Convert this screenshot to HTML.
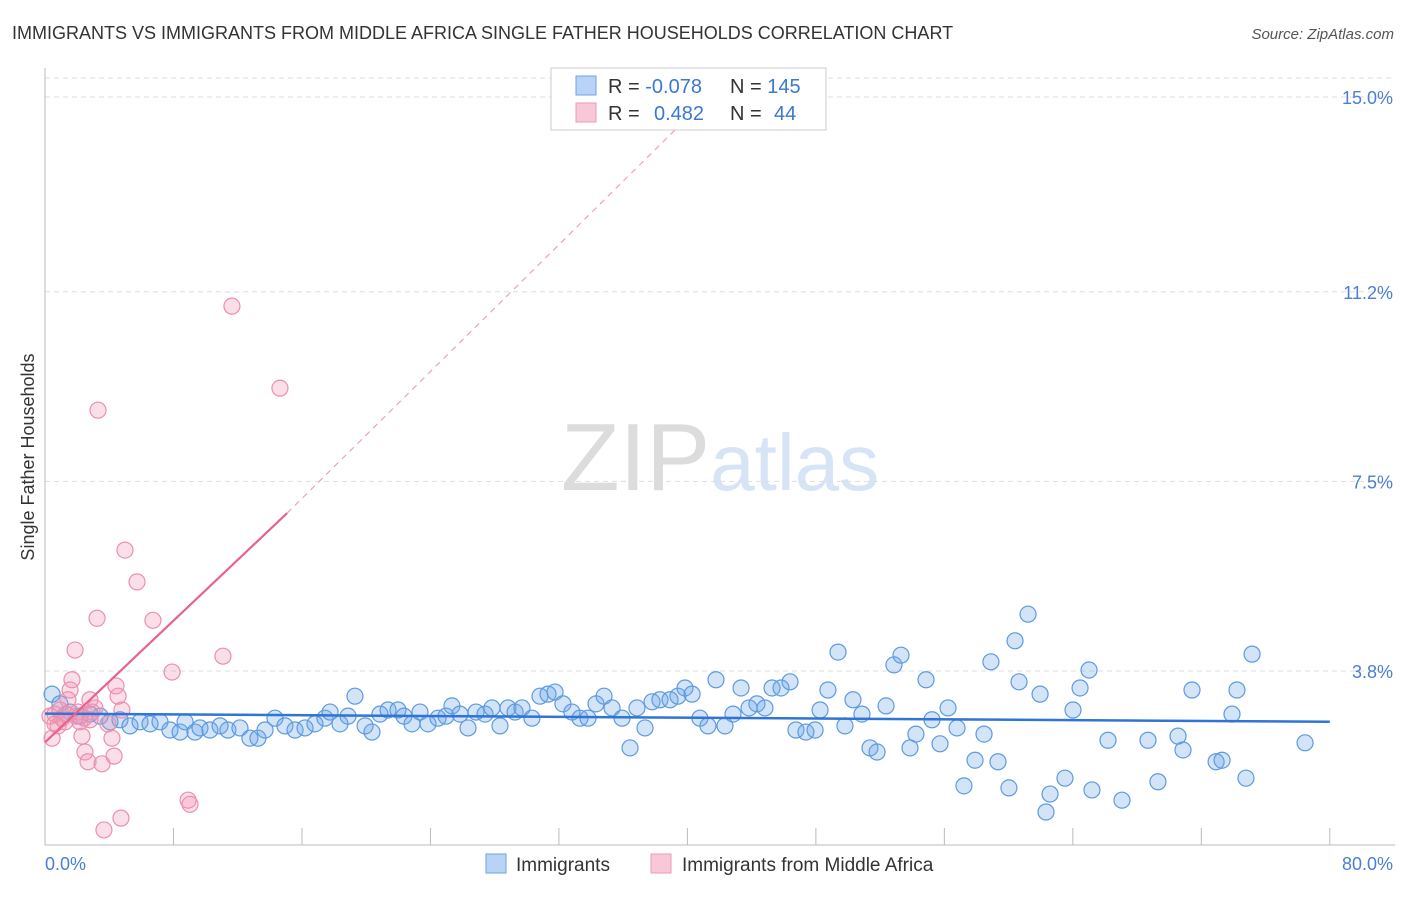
<!DOCTYPE html>
<html><head><meta charset="utf-8"><style>
body{margin:0;background:#fff;font-family:"Liberation Sans",sans-serif}
svg text{font-family:"Liberation Sans",sans-serif}
</style></head><body>
<svg id="chart" width="1406" height="892" xmlns="http://www.w3.org/2000/svg">
<text x="12" y="39" font-size="18" fill="#333">IMMIGRANTS VS IMMIGRANTS FROM MIDDLE AFRICA SINGLE FATHER HOUSEHOLDS CORRELATION CHART</text>
<text x="1394" y="39" font-size="15" fill="#555" text-anchor="end" font-style="italic">Source: ZipAtlas.com</text>
<text x="720" y="490" font-size="96" text-anchor="middle" fill="#e4e4e4" font-family="Liberation Serif"><tspan fill="#dcdcdc">ZIP</tspan><tspan fill="#d6e4f5" font-family="Liberation Sans" font-size="80">atlas</tspan></text>
<g id="grid"></g>
<g id="axes"></g>
<g id="pts"></g>
<g id="trends"></g>
<text transform="translate(34,457) rotate(-90)" font-size="18" fill="#333" text-anchor="middle">Single Father Households</text>
<text x="45" y="870" font-size="18" fill="#4a7fd4">0.0%</text>
<text x="1393" y="870" font-size="18" fill="#4a7fd4" text-anchor="end">80.0%</text>
<g>
<rect x="551" y="68" width="275" height="62" fill="#fff" stroke="#ccc"/>
<rect x="576" y="76" width="20" height="19" fill="#b8d3f5" stroke="#6fa3e3"/>
<rect x="576" y="103" width="20" height="19" fill="#f9c8d8" stroke="#ee9ab5"/>
<text x="608" y="93" font-size="20" fill="#333">R = <tspan fill="#3a78d4">-0.078</tspan></text>
<text x="730" y="93" font-size="20" fill="#333">N = <tspan fill="#3a78d4">145</tspan></text>
<text x="608" y="120" font-size="20" fill="#333">R = <tspan fill="#3a78d4" x="654">0.482</tspan></text>
<text x="730" y="120" font-size="20" fill="#333">N = <tspan fill="#3a78d4" x="774">44</tspan></text>
</g>
<g>
<rect x="486" y="854" width="20" height="19" fill="#b8d3f5" stroke="#6fa3e3"/>
<text x="516" y="871" font-size="19" fill="#333">Immigrants</text></g>
<g>
<rect x="651" y="854" width="20" height="19" fill="#f9c8d8" stroke="#ee9ab5"/>
<text x="682" y="871" font-size="19" fill="#333">Immigrants from Middle Africa</text></g>
</svg>
<script>
const yTicks=[15.0,11.2,7.5,3.8];
const yTickLabels=["15.0%","11.2%","7.5%","3.8%"];
const xTicks=[0,8,16,24,32,40,48,56,64,72,80];
const blueX=[0.44,0.93,1.56,2.18,2.80,3.43,4.05,4.67,5.29,5.92,6.54,7.16,7.78,8.41,8.72,9.34,9.65,10.27,10.90,11.39,12.14,12.76,13.26,13.70,14.32,14.94,15.57,16.19,16.81,17.43,17.75,18.37,18.87,19.30,19.93,20.36,20.86,21.36,21.98,22.35,22.85,23.35,23.85,24.47,24.97,25.34,25.84,26.34,26.84,27.40,27.83,28.33,28.83,29.27,29.70,30.32,30.82,31.32,31.76,32.25,32.81,33.31,33.81,34.31,34.81,35.31,35.93,36.43,36.86,37.36,37.80,38.29,38.92,39.41,39.85,40.29,40.78,41.28,41.78,42.34,42.84,43.34,43.84,44.33,44.83,45.27,45.83,46.39,46.76,47.38,47.95,48.26,48.75,49.38,49.81,50.31,50.87,51.37,51.81,52.37,52.86,53.30,53.86,54.23,54.86,55.23,55.73,56.23,56.79,57.22,57.91,58.47,58.90,59.34,60.02,60.40,60.65,61.21,61.96,62.33,62.58,63.51,64.01,64.45,65.01,65.19,66.19,67.06,68.68,69.30,70.55,70.86,71.42,72.92,73.29,73.91,74.22,74.78,75.16,78.46];
const blueY=[3.35,3.16,3.00,2.92,2.96,2.92,2.81,2.85,2.73,2.81,2.77,2.81,2.65,2.61,2.81,2.61,2.69,2.65,2.73,2.65,2.69,2.49,2.49,2.65,2.88,2.73,2.65,2.69,2.77,2.88,3.00,2.77,2.92,3.31,2.73,2.61,2.96,3.04,3.04,2.92,2.77,3.00,2.77,2.88,2.92,3.12,2.96,2.69,3.00,2.96,3.08,2.73,3.08,3.00,3.08,2.88,3.31,3.35,3.39,3.16,3.00,2.88,2.88,3.16,3.31,3.08,2.88,2.30,3.08,2.69,3.20,3.24,3.24,3.31,3.47,3.35,2.88,2.73,3.63,2.73,2.96,3.47,3.08,3.16,3.08,3.47,3.47,3.59,2.65,2.61,2.65,3.04,3.43,4.17,2.73,3.24,2.96,2.30,2.22,3.12,3.92,4.11,2.30,2.57,3.63,2.85,2.38,3.08,2.69,1.56,2.06,2.57,3.98,2.03,1.52,4.39,3.59,4.91,3.35,1.05,1.40,1.71,3.04,3.47,3.82,1.48,2.45,1.28,2.45,1.64,2.53,2.26,3.43,2.03,2.06,2.96,3.43,1.71,4.13,2.40];
const pinkX=[0.31,0.44,0.62,0.81,1.06,1.25,1.43,1.56,1.68,1.87,2.05,2.18,2.30,2.49,2.68,2.80,2.93,3.11,3.24,3.30,3.55,3.67,3.92,4.17,4.30,4.42,4.55,4.73,4.79,4.98,5.73,6.72,7.91,8.91,9.03,11.08,11.64,14.63,0.93,2.43,0.62,1.31,1.93,2.80];
const pinkY=[2.92,2.49,2.96,2.73,2.88,2.81,3.24,3.43,3.63,4.21,3.00,2.81,2.53,2.22,2.03,3.24,3.00,3.08,4.83,8.89,1.99,0.70,2.77,2.49,2.14,3.51,3.31,0.93,3.04,6.16,5.54,4.79,3.78,1.28,1.20,4.09,10.92,9.32,3.04,2.88,2.77,2.96,2.92,2.85];
const blueTrend=[[0,2.97],[80,2.81]];
const pinkTrend=[[0,2.41],[15.07,6.88]];
const pinkTrendDashEnd=[42.6,15.4];
const NS="http://www.w3.org/2000/svg";
const xs=v=>45+v*16.06;
const ys=v=>865.8-v*51.25;
function mk(parent,tag,attrs){const e=document.createElementNS(NS,tag);for(const k in attrs)e.setAttribute(k,attrs[k]);document.getElementById(parent).appendChild(e);return e;}
let e=mk('grid','line',{x1:45,x2:1395,y1:78,y2:78,stroke:'#ddd','stroke-dasharray':'5,4'});


yTicks.forEach((t,i)=>{
 const g=mk('grid','line',{x1:45,x2:1395,y1:ys(t),y2:ys(t),stroke:'#ddd','stroke-dasharray':'5,4'});
 
 
 const l=mk('grid','text',{x:1393,y:ys(t)+7,'font-size':18,fill:'#4a7fd4','text-anchor':'end'});
 l.textContent=yTickLabels[i];
 
 
});
e=mk('axes','line',{x1:45,x2:45,y1:68,y2:845,stroke:'#bbb'});


e=mk('axes','line',{x1:45,x2:1395,y1:845,y2:845,stroke:'#bbb'});


xTicks.forEach(t=>{
 const k=mk('axes','line',{x1:xs(t),x2:xs(t),y1:828,y2:845,stroke:'#bbb'});
 
 
});
blueX.forEach((x,i)=>{
 const c=mk('pts','circle',{cx:xs(x),cy:ys(blueY[i]),r:8,fill:'rgba(110,165,230,0.3)',stroke:'#5c9ae2','stroke-width':1.2});
 
 
});
pinkX.forEach((x,i)=>{
 const c=mk('pts','circle',{cx:xs(x),cy:ys(pinkY[i]),r:8,fill:'rgba(242,150,180,0.3)',stroke:'#ec8fae','stroke-width':1.2});
 
 
});
e=mk('trends','line',{x1:xs(blueTrend[0][0]),y1:ys(blueTrend[0][1]),x2:xs(blueTrend[1][0]),y2:ys(blueTrend[1][1]),stroke:'#2f74d6','stroke-width':2.5});


e=mk('trends','line',{x1:xs(pinkTrend[1][0]),y1:ys(pinkTrend[1][1]),x2:xs(pinkTrendDashEnd[0]),y2:ys(pinkTrendDashEnd[1]),stroke:'#f0a0b8','stroke-width':1.2,'stroke-dasharray':'6,5'});


e=mk('trends','line',{x1:xs(pinkTrend[0][0]),y1:ys(pinkTrend[0][1]),x2:xs(pinkTrend[1][0]),y2:ys(pinkTrend[1][1]),stroke:'#e8628c','stroke-width':2.2});


</script>
</body></html>
